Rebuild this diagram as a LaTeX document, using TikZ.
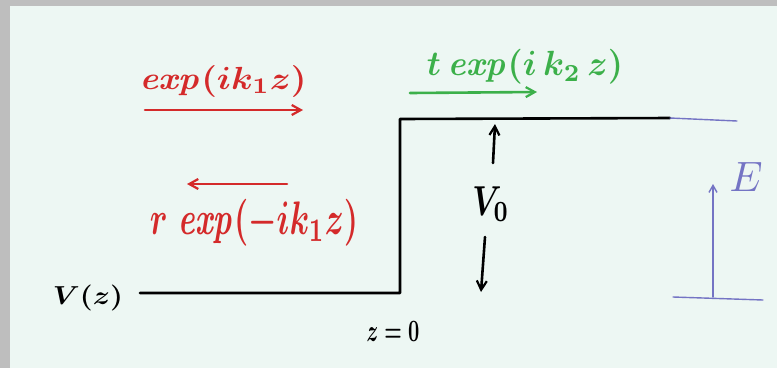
\documentclass[tikz,border=0pt]{standalone}
\usepackage{graphicx}
\usepackage{bm}
\usetikzlibrary{arrows.meta}
\definecolor{framegray}{HTML}{BEBEBE}
\definecolor{paper}{HTML}{EDF7F3}
\definecolor{penred}{HTML}{D42A2A}
\definecolor{pengreen}{HTML}{3CB04A}
\definecolor{penpurple}{HTML}{7474C4}
\newcommand{\fitbox}[3]{\resizebox*{#1}{#2}{\boldmath #3}}
\begin{document}
\begin{tikzpicture}[x=1pt,y=-1pt,
  lbl/.style={inner sep=0pt,outer sep=0pt},
  pen/.style={line width=2.6pt,line cap=round},
  thinpen/.style={line width=1.4pt,line cap=round,penpurple},
  arr/.style={-{Straight Barb[length=9pt,width=10pt,line width=2.2pt]}}]
\useasboundingbox (0,0) rectangle (777,368);
\fill[framegray] (0,0) rectangle (777,368);
\fill[paper] (10,6) rectangle (777,368);

% labels
\node[lbl,penred] (inc) at (223,81) {\fitbox{167pt}{32pt}{$\mathit{exp}(ik_1z)$}};
\node[lbl,pengreen] (tra) at (525,67) {\fitbox{196pt}{35pt}{$t\,\mathit{exp}(i\,k_2\,z)$}};
\node[lbl,penred] (ref) at (254,223) {\fitbox{208pt}{47pt}{$r\;\mathit{exp}(-ik_1z)$}};
\node[lbl] (vz) at (88,298) {\fitbox{70pt}{26pt}{$V(z)$}};
\node[lbl] (z0) at (393,331) {\fitbox{53pt}{20pt}{$z=0$}};
\node[lbl] (v0) at (491,204) {\fitbox{37pt}{35pt}{$V_0$}};
\node[lbl,penpurple] (en) at (746,177) {\resizebox*{33pt}{29pt}{$E$}};

% potential step
\coordinate (pa) at (140,293);
\coordinate (pb) at (400,293);
\coordinate (pc) at (400,119);
\coordinate (pd) at (670,118);
\coordinate (pe) at (737,121);
\draw[pen,line join=round] (pa) -- (pb) -- (pc) -- (pd);
\draw[thinpen] (pd) -- (pe);

% wave arrows
\coordinate (ia) at (145,110);
\coordinate (ib) at (303,110);
\draw[pen,penred,arr] (ia) -- (ib);
\coordinate (ta) at (410,93);
\coordinate (tb) at (537,92);
\draw[pen,pengreen,arr] (ta) -- (tb);
\coordinate (ra) at (287,184);
\coordinate (rb) at (187,184);
\draw[pen,penred,arr] (ra) -- (rb);

% V0 arrows
\coordinate (ua) at (493,163);
\coordinate (ub) at (495,124);
\draw[pen,arr] (ua) -- (ub);
\coordinate (da) at (485,237);
\coordinate (db) at (481,292);
\draw[pen,arr] (da) -- (db);

% energy arrow
\coordinate (ea) at (713,297);
\coordinate (eb) at (713,184);
\draw[thinpen,-{Straight Barb[length=7pt,width=8pt,line width=1.4pt]}] (ea) -- (eb);
\coordinate (la) at (673,297);
\coordinate (lb) at (763,300);
\draw[thinpen] (la) -- (lb);
\end{tikzpicture}
\end{document}
